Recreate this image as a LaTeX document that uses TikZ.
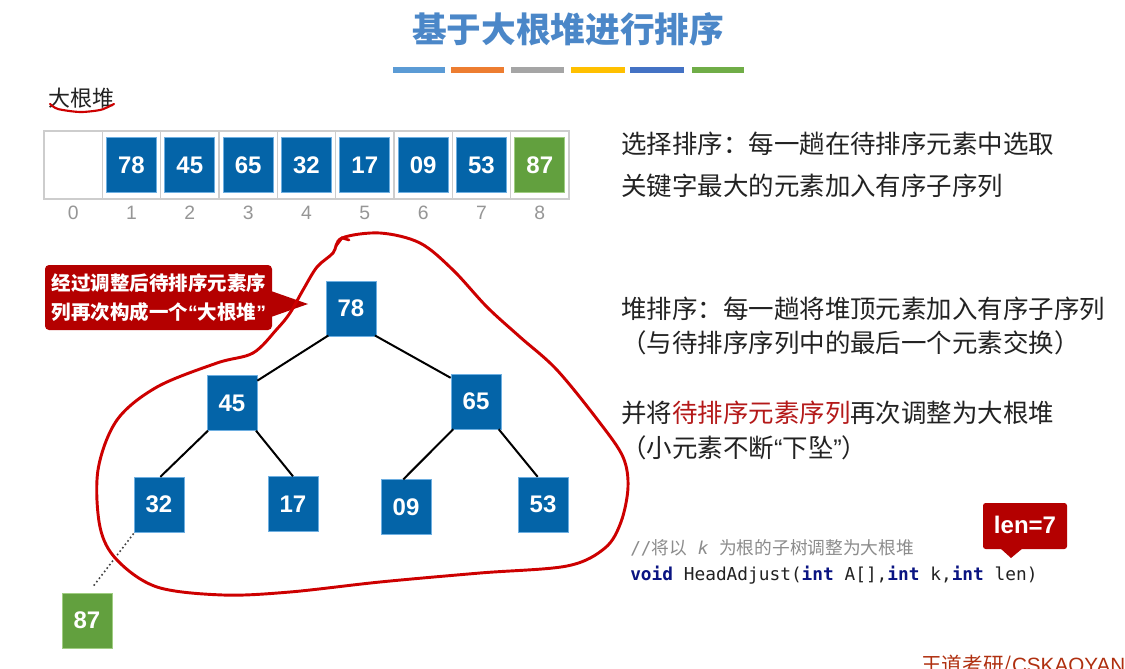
\documentclass[tikz,border=0pt]{standalone}
\usepackage{fontspec}
\setmainfont{Noto Sans CJK SC}
\newfontfamily\numf{Liberation Sans}
\newfontfamily\codef{DejaVu Sans Mono}
\definecolor{titleblue}{RGB}{75,135,200}
\definecolor{nodeblue}{RGB}{4,100,168}
\definecolor{nodeedge}{RGB}{110,175,225}
\definecolor{nodegreen}{RGB}{98,160,62}
\definecolor{greenedge}{RGB}{160,205,130}
\definecolor{callred}{RGB}{180,0,0}
\definecolor{blobred}{RGB}{205,0,0}
\definecolor{txt}{RGB}{34,34,34}
\definecolor{redtxt}{RGB}{180,25,25}
\definecolor{kw}{RGB}{10,20,130}
\definecolor{cmt}{RGB}{140,140,140}
\definecolor{idx}{RGB}{150,150,150}
\definecolor{cellgray}{RGB}{205,205,205}
\definecolor{barA}{RGB}{91,155,213}
\definecolor{barB}{RGB}{237,125,49}
\definecolor{barC}{RGB}{165,165,165}
\definecolor{barD}{RGB}{255,192,0}
\definecolor{barE}{RGB}{68,114,196}
\definecolor{barF}{RGB}{112,173,71}
\definecolor{mark}{RGB}{176,48,16}
\begin{document}
\begin{tikzpicture}[x=0.75pt,y=-0.75pt,
  bluebox/.style={fill=nodeblue,draw=nodeedge,line width=0.5pt,text=white,
    minimum width=37.5pt,minimum height=41pt,inner sep=0pt,
    font=\numf\bfseries\fontsize{18pt}{20pt}\selectfont},
  greenbox/.style={bluebox,fill=nodegreen,draw=greenedge},
  cellbox/.style={bluebox,minimum height=41pt},
  idxlabel/.style={text=idx,font=\numf\fontsize{14.5pt}{16pt}\selectfont},
  rtext/.style={anchor=west,text=txt,inner sep=0pt,font=\fontsize{19.1pt}{22pt}\selectfont},
  treeedge/.style={line width=1.5pt,black},
  bar/.style={line width=4pt}
]
\useasboundingbox[fill=white] (0,0) rectangle (1125,668);

% title
\node (title) at (568,29) {\fontsize{26pt}{30pt}\selectfont\bfseries\color{titleblue}基于大根堆进行排序};
\draw[bar,barA] (393,70) -- (445,70);
\draw[bar,barB] (451,70) -- (504,70);
\draw[bar,barC] (511,70) -- (564,70);
\draw[bar,barD] (571,70) -- (625,70);
\draw[bar,barE] (630,70) -- (684,70);
\draw[bar,barF] (692,70) -- (744,70);

% heading
\node[anchor=west,inner sep=0pt,text=txt] (heading) at (48,98) {\fontsize{16.5pt}{18pt}\selectfont 大根堆};
\draw[blobred,line width=1.6pt,line cap=round] plot[smooth] coordinates {(50,104) (58,109) (80,112) (100,110) (110,106) (114,104)};

% array
\draw[cellgray,line width=0.8pt] (44,131) rectangle (569,199);
\foreach \i in {1,...,8} {
  \draw[cellgray,line width=0.8pt] ({44+58.33*\i},131) -- ({44+58.33*\i},199);
}
\foreach \v [count=\i] in {78,45,65,32,17,09,53} {
  \node[cellbox] (c\i) at ({44+58.33*\i+29.17},165) {\v};
}
\node[greenbox] (c8) at ({44+58.33*8+29.17},165) {87};
\foreach \i in {0,...,8} {
  \node[idxlabel] (l\i) at ({44+58.33*\i+29.17},213) {\i};
}

% right texts
\node[rtext] (t1) at (621,144) {选择排序：每一趟在待排序元素中选取};
\node[rtext] (t2) at (621,186) {关键字最大的元素加入有序子序列};
\node[rtext] (t3) at (621,309) {堆排序：每一趟将堆顶元素加入有序子序列};
\node[rtext] (t4) at (621,343) {（与待排序序列中的最后一个元素交换）};
\node[rtext] (t5) at (621,413) {并将{\color{redtxt}待排序元素序列}再次调整为大根堆};
\node[rtext] (t6) at (621,448) {（小元素不断{\numf “}下坠{\numf ”}）};

% code
\node[anchor=west,inner sep=0pt,text=cmt] (cm) at (630,548)
  {\fontsize{13.3pt}{15pt}\selectfont{\codef //}将以{\codef\ \itshape k\ }为根的子树调整为大根堆};
\node[anchor=west,inner sep=0pt,text=txt] (code) at (630,575)
  {\codef\fontsize{13.35pt}{15pt}\selectfont{\bfseries\color{kw}void} HeadAdjust({\bfseries\color{kw}int} A[],{\bfseries\color{kw}int} k,{\bfseries\color{kw}int} len)};

% len callout
\fill[callred,rounded corners=2pt] (983,503) rectangle (1067,549);
\fill[callred] (1000,548) -- (1011,558) -- (1023,548) -- cycle;
\node[text=white,font=\numf\bfseries\fontsize{18pt}{20pt}\selectfont] (len) at (1025,525) {len=7};

% left callout
\fill[callred,rounded corners=3pt] (45,265) rectangle (272,330);
\fill[callred] (271,291) -- (308,304) -- (271,317) -- cycle;
\node[text=white,align=center,font=\bfseries\fontsize{14.6pt}{22pt}\selectfont] (note) at (159,297.5)
  {经过调整后待排序元素序\\列再次构成一个{\numf\bfseries “}大根堆{\numf\bfseries ”}};

% tree
\node[bluebox] (n78) at (351,308.5) {78};
\node[bluebox] (n45) at (232,403) {45};
\node[bluebox] (n65) at (476,401.5) {65};
\node[bluebox] (n32) at (159,504.5) {32};
\node[bluebox] (n17) at (293,504) {17};
\node[bluebox] (n09) at (406,507) {09};
\node[bluebox] (n53) at (543,504.5) {53};
\node[greenbox] (n87) at (87,620.5) {87};

\draw[treeedge] ([xshift=2pt,yshift=0.5pt]n78.south west) -- ([yshift=-4pt]n45.north east);
\draw[treeedge] ([xshift=-1pt,yshift=0.5pt]n78.south east) -- ([yshift=-3pt]n65.north west);
\draw[treeedge] ([xshift=1pt]n45.south west) -- ([xshift=1pt]n32.north);
\draw[treeedge] ([xshift=-1pt]n45.south east) -- (n17.north);
\draw[treeedge] ([xshift=2pt]n65.south west) -- ([xshift=-2pt]n09.north);
\draw[treeedge] ([xshift=-2pt]n65.south east) -- ([xshift=-4pt]n53.north);
\draw[line width=1.2pt,dotted,black!75] ([yshift=-1pt]n32.south west) -- ([xshift=4pt,yshift=4pt]n87.north);

% blob
\draw[blobred,line width=2.2pt] plot[smooth cycle,tension=0.55] coordinates {
 (342,238) (380,233) (420,243) (453,270) (487,307) (520,337) (557,370)
 (600,423) (623,457) (628,487) (621,522) (605,548) (567,566) (480,573)
 (380,582) (290,592) (223,595) (157,587) (117,560) (100,527) (98,470)
 (117,420) (157,387) (217,363) (253,353) (277,329) (290,313) (303,290)
 (317,267) (333,253)};
\draw[blobred,line width=2pt,line cap=round] (336,246) -- (342,238) -- (349,240);

% credit (cut off at the lower edge, as in the reference)
\node[anchor=north west,inner sep=0pt,text=mark] (credit) at (921,655)
  {\fontsize{15.5pt}{17pt}\selectfont 王道考研/{\numf CSKAOYAN}};
\end{tikzpicture}
\end{document}
